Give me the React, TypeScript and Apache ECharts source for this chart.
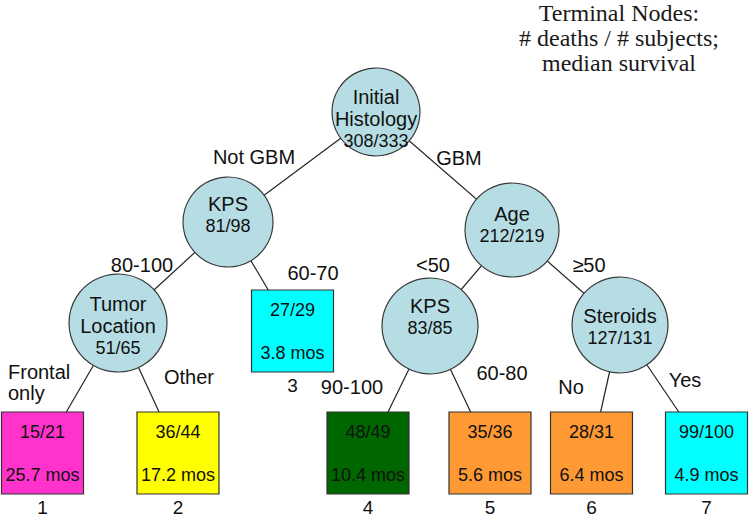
import React, { useEffect, useRef } from "react";
import * as echarts from "echarts";

// ---------- data ----------
const splitNodeNames = ["Initial\nHistology", "KPS", "Age", "Tumor\nLocation", "KPS", "Steroids"];
const splitDeaths = [308, 81, 212, 51, 83, 127];
const splitSubjects = [333, 98, 219, 65, 85, 131];

const terminalIds = ["1", "2", "3", "4", "5", "6", "7"];
const terminalDeaths = [15, 36, 27, 48, 35, 28, 99];
const terminalSubjects = [21, 44, 29, 49, 36, 31, 100];
const medianSurvivalMos = [25.7, 17.2, 3.8, 10.4, 5.6, 6.4, 4.9];

// parent -> child (split nodes 0..5, terminal nodes 6..12 = terminal 1..7)
const edgeFrom = [0, 0, 1, 1, 2, 2, 3, 3, 4, 4, 5, 5];
const edgeTo = [1, 2, 3, 8, 4, 5, 6, 7, 9, 10, 11, 12];
const edgeLabels = ["Not GBM", "GBM", "80-100", "60-70", "<50", "≥50", "Frontal\nonly", "Other", "90-100", "60-80", "No", "Yes"];

const titleLines = ["Terminal Nodes:", "# deaths / # subjects;", "median survival"];

// ---------- layout (diagram units = pixels of the 750x518 canvas) ----------
const splitPos = [[376, 112], [228, 222], [512, 230], [118, 323], [430, 326], [620, 325]];
const splitRadius = [44, 45, 47, 49, 48, 48];
const splitLabelDy = [7, -7, -5, 3, -9, 2];
const terminalPos = [[42.5, 453], [178, 453], [292.5, 331], [368, 453], [490, 453], [591.5, 453], [706.5, 453]];
const terminalColors = ["#ff33cc", "#ffff00", "#00ffff", "#006600", "#ff9933", "#ff9933", "#00ffff"];
const edgeLabelPos = [[254, 157], [459, 158], [142, 265], [313, 273], [433, 265], [589, 265], [8, 382], [189, 377], [352, 387], [502, 373], [571, 387], [685, 380]];

const SANS = "'Liberation Sans', Arial, sans-serif";
const SERIF = "'Liberation Serif', 'Times New Roman', serif";

export default function App() {
  const ref = useRef<HTMLDivElement>(null);

  useEffect(() => {
    if (!ref.current) return;
    const chart = echarts.init(ref.current, undefined, { renderer: "svg" });

    const splitNodes = splitNodeNames.map((n, i) => ({
      name: "split" + i,
      value: splitPos[i],
      symbol: "circle",
      symbolSize: splitRadius[i] * 2,
      itemStyle: { color: "#b6dde4", borderColor: "#3a3a3a", borderWidth: 1.2 },
      label: {
        show: true,
        position: "inside",
        offset: [0, splitLabelDy[i]],
        formatter: () => n.split("\n").map((l) => `{n|${l}}`).join("\n") + `\n{c|${splitDeaths[i]}/${splitSubjects[i]}}`,
        rich: {
          n: { fontFamily: SANS, fontSize: 20, color: "#111", lineHeight: 22 },
          c: { fontFamily: SANS, fontSize: 18, color: "#111", lineHeight: 22 },
        },
      },
    }));

    const termNodes = terminalIds.map((id, i) => ({
      name: "term" + id,
      value: terminalPos[i],
      symbol: "rect",
      symbolSize: [82, 82],
      itemStyle: { color: terminalColors[i], borderColor: "#333", borderWidth: 1.2 },
      label: {
        show: true,
        position: "inside",
        formatter: () => `{t|${terminalDeaths[i]}/${terminalSubjects[i]}}\n{t|${medianSurvivalMos[i].toFixed(1)} mos}`,
        rich: { t: { fontFamily: SANS, fontSize: 18, color: "#111", lineHeight: 43 } },
      },
    }));

    const links = edgeFrom.map((s, i) => ({ source: s, target: edgeTo[i] }));

    const option: any = {
      animation: false,
      backgroundColor: "#ffffff",
      grid: { left: 0, right: 0, top: 0, bottom: 0 },
      xAxis: { type: "value", min: 0, max: 750, show: false },
      yAxis: { type: "value", min: 0, max: 518, inverse: true, show: false },
      graphic: [
        {
          type: "text",
          x: 619,
          y: 0,
          style: {
            text: titleLines.join("\n"),
            fontFamily: SERIF,
            fontSize: 24,
            lineHeight: 25,
            fill: "#1a1a1a",
            align: "center",
            verticalAlign: "top",
          },
        },
      ],
      series: [
        {
          type: "graph",
          coordinateSystem: "cartesian2d",
          xAxisIndex: 0,
          yAxisIndex: 0,
          silent: true,
          data: [...splitNodes, ...termNodes],
          links,
          edgeSymbol: ["none", "none"],
          lineStyle: { color: "#222", width: 1.2, opacity: 1, curveness: 0 },
          emphasis: { disabled: true },
          z: 2,
        },
        {
          type: "scatter",
          silent: true,
          symbolSize: 1,
          itemStyle: { color: "rgba(0,0,0,0)", opacity: 1 },
          data: edgeLabels.map((t, i) => ({
            name: t,
            value: edgeLabelPos[i],
            label: {
              show: true,
              position: "inside",
              align: i === 6 ? "left" : "center",
              formatter: "{b}",
              fontFamily: SANS,
              fontSize: 20,
              lineHeight: 21,
              color: "#111",
            },
          })),
          z: 3,
        },
        {
          type: "scatter",
          silent: true,
          symbol: "rect",
          symbolSize: [82, 82],
          itemStyle: { color: "rgba(0,0,0,0)", opacity: 1 },
          data: terminalIds.map((id, i) => ({ name: id, value: terminalPos[i] })),
          label: {
            show: true,
            position: "bottom",
            distance: 4,
            formatter: "{b}",
            fontFamily: SANS,
            fontSize: 19,
            color: "#111",
          },
          z: 3,
        },
      ],
    };

    chart.setOption(option);
    return () => chart.dispose();
  }, []);

  return <div ref={ref} style={{ position: "fixed", left: 0, top: 0, width: 750, height: 518 }} />;
}
